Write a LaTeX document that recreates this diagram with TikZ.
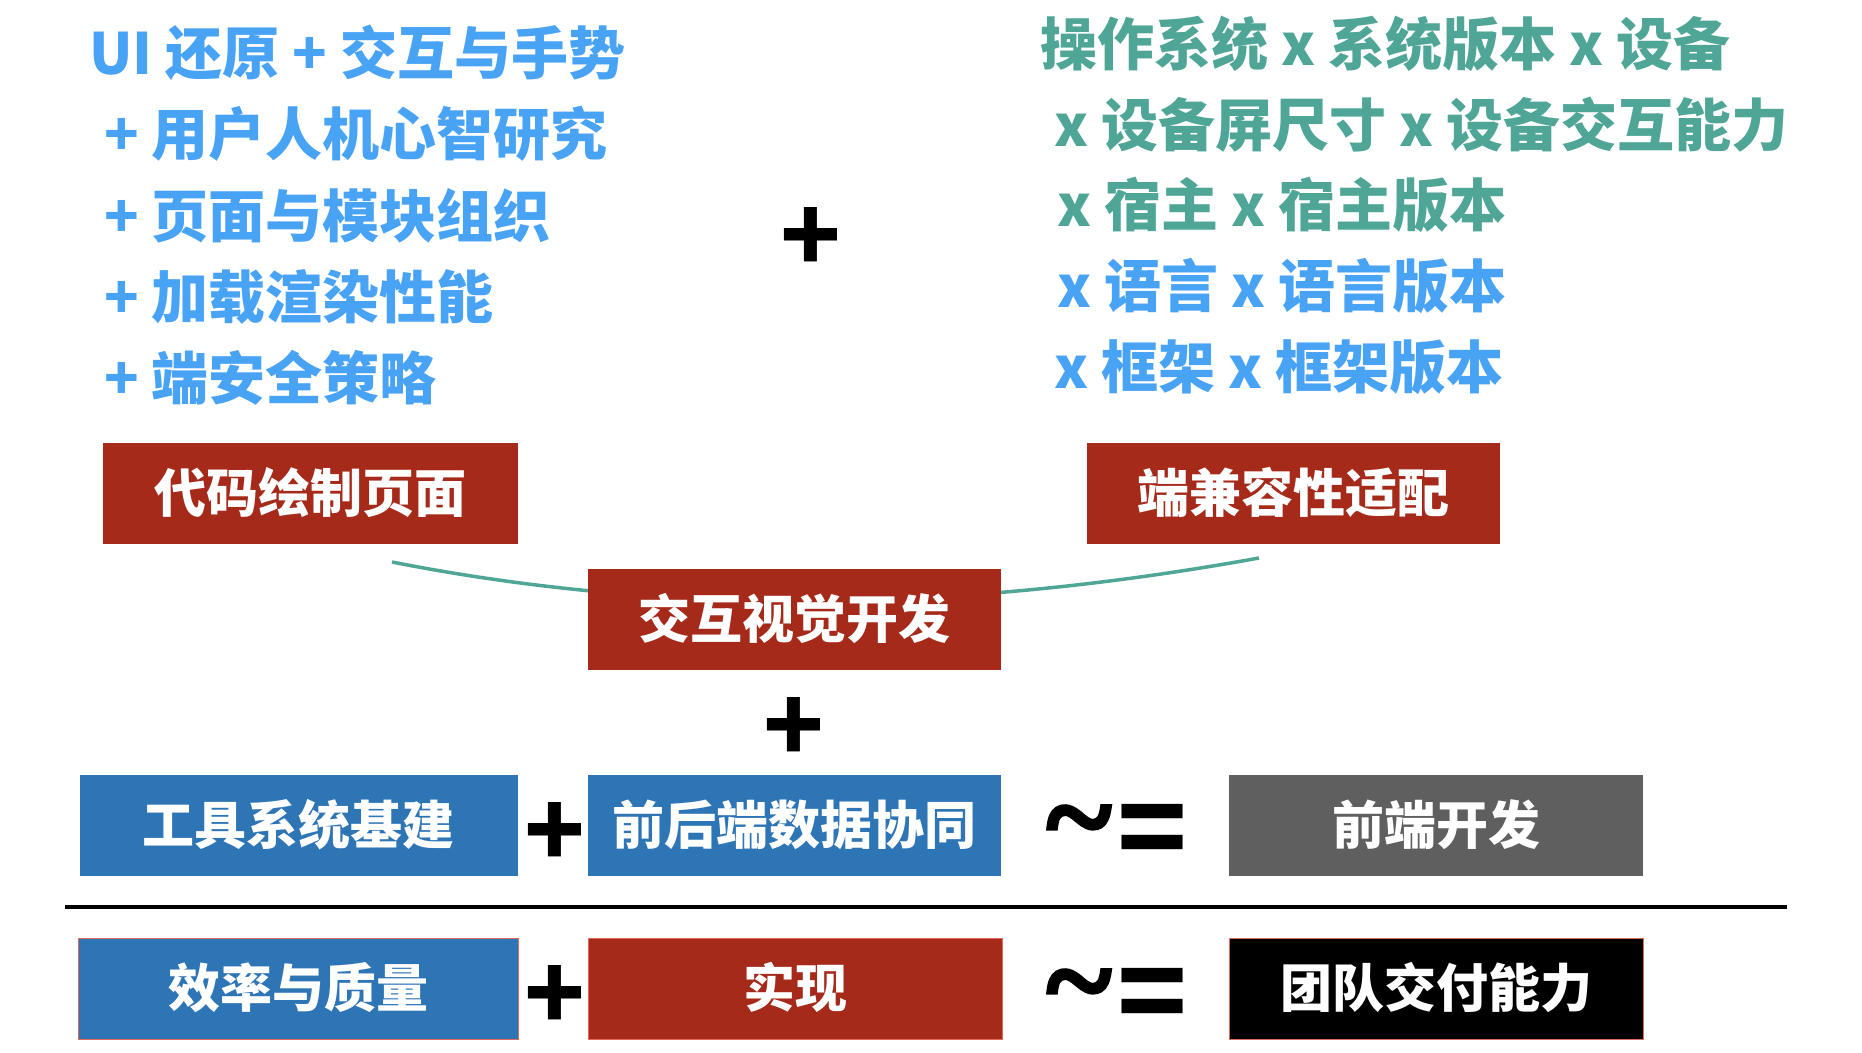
\documentclass[tikz,border=0pt]{standalone}
\usepackage{fontspec}
\setmainfont{Noto Sans CJK SC}
\newfontfamily\serifb{Liberation Serif}[BoldFeatures={FakeBold=2.5}]
\definecolor{boxred}{HTML}{A52A1A}
\definecolor{boxblue}{HTML}{2E75B6}
\definecolor{boxgray}{HTML}{5F5F5F}
\definecolor{txtblue}{HTML}{49A3F5}
\definecolor{txtteal}{HTML}{4FA697}
\definecolor{edgered}{HTML}{E06A5A}
\tikzset{
  toptext/.style={anchor=west, inner sep=0pt, font=\bfseries\fontsize{57}{60}\selectfont, text height=42pt, text depth=0pt},
  cbox/.style={inner sep=0pt, minimum height=101pt, text=white, font=\bfseries\fontsize{52}{56}\selectfont, text height=38.5pt, text depth=0pt},
  bigplus/.style={inner sep=0pt, font=\bfseries\fontsize{100}{100}\selectfont},
  tildesym/.style={inner sep=0pt, font=\serifb\bfseries\fontsize{124}{124}\selectfont},
  eqsym/.style={inner sep=0pt, font=\bfseries\fontsize{115}{115}\selectfont},
}
\begin{document}
\begin{tikzpicture}[x=1pt,y=-1pt]
\useasboundingbox (0,0) rectangle (1862,1052);
\fill[white] (0,0) rectangle (1862,1052);

% left text block
\node[toptext, text=txtblue] (l1) at (89,53) {UI 还原 + 交互与手势};
\node[toptext, text=txtblue] (l2) at (104,134) {+ 用户人机心智研究};
\node[toptext, text=txtblue] (l3) at (104,216) {+ 页面与模块组织};
\node[toptext, text=txtblue] (l4) at (104,297) {+ 加载渲染性能};
\node[toptext, text=txtblue] (l5) at (104,378) {+ 端安全策略};

% right text block
\node[toptext, text=txtteal] (r1) at (1040,44) {操作系统 x 系统版本 x 设备};
\node[toptext, text=txtteal] (r2) at (1054,125) {x 设备屏尺寸 x 设备交互能力};
\node[toptext, text=txtteal] (r3) at (1057,205) {x 宿主 x 宿主版本};
\node[toptext, text=txtblue] (r4) at (1057,286) {x 语言 x 语言版本};
\node[toptext, text=txtblue] (r5) at (1054,367) {x 框架 x 框架版本};

% central plus
\node[bigplus] (p0) at (811,240) {+};

% curve behind interaction box
\coordinate (cl) at (392,562);
\coordinate (cr) at (1259,558);
\draw[txtteal, line width=3.5pt] (cl) .. controls (661,615) and (950,614) .. (cr);

% boxes
\node[cbox, fill=boxred, minimum width=415pt] (code) at (310.5,493) {代码绘制页面};
\node[cbox, fill=boxred, minimum width=413pt] (compat) at (1293.5,493) {端兼容性适配};
\node[cbox, fill=boxred, minimum width=413pt] (inter) at (794.5,619.5) {交互视觉开发};

\node[bigplus] (p1) at (794,730) {+};

\node[cbox, fill=boxblue, minimum width=438pt] (tools) at (298.5,825) {工具系统基建};
\node[bigplus] (p2) at (555,835) {+};
\node[cbox, fill=boxblue, minimum width=413pt] (sync) at (794.5,825) {前后端数据协同};
\node[tildesym] (t1) at (1079,832) {\char"7E};
\node[eqsym] (e1) at (1152.5,837) {=};
\node[cbox, fill=boxgray, minimum width=414pt] (fe) at (1436,825) {前端开发};

% separator
\coordinate (sl) at (65,907);
\coordinate (sr) at (1787,907);
\draw[black, line width=4pt] (sl) -- (sr);

\node[cbox, fill=boxblue, draw=edgered, line width=1pt, minimum width=440pt] (eff) at (298,988.5) {效率与质量};
\node[bigplus] (p3) at (555,998) {+};
\node[cbox, fill=boxred, draw=edgered, line width=1pt, minimum width=414pt] (impl) at (795,988.5) {实现};
\node[tildesym] (t2) at (1079,996) {\char"7E};
\node[eqsym] (e2) at (1152.5,1001) {=};
\node[cbox, fill=black, draw=edgered, line width=1pt, minimum width=414pt] (team) at (1436,988.5) {团队交付能力};
\end{tikzpicture}
\end{document}
